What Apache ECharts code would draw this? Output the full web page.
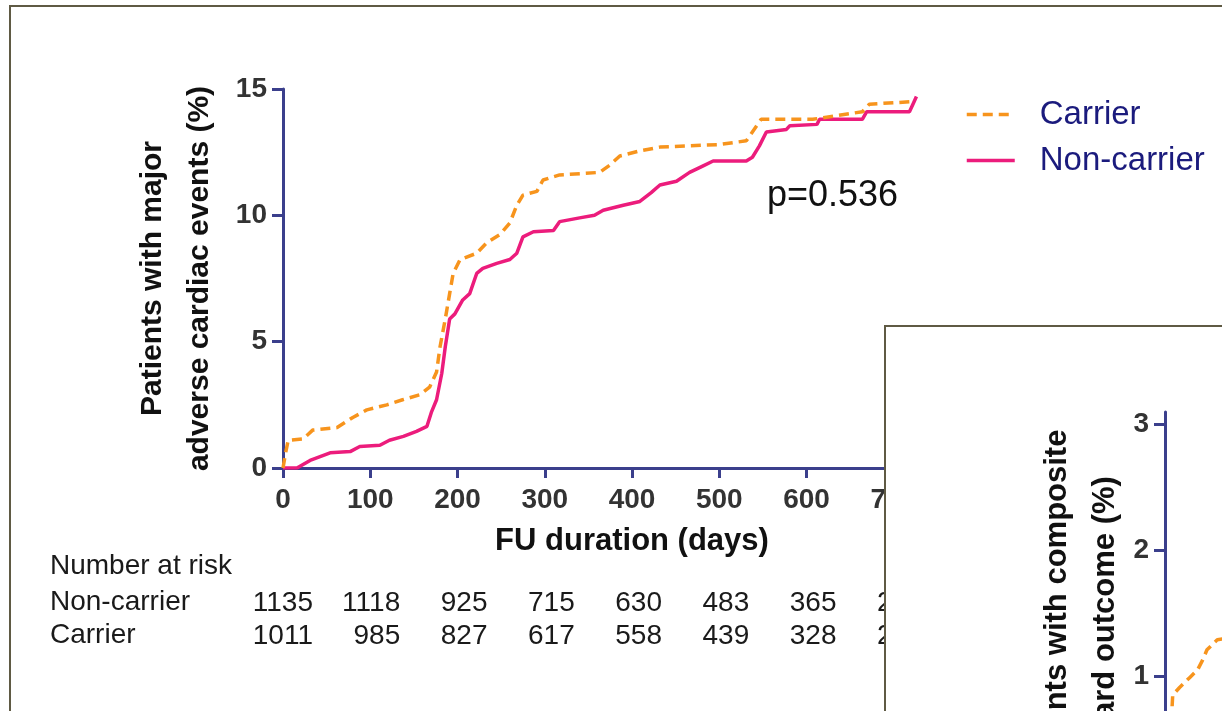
<!DOCTYPE html>
<html>
<head>
<meta charset="utf-8">
<script src="https://cdn.jsdelivr.net/npm/echarts@6/dist/echarts.min.js"></script>
<style>
  html, body { margin: 0; padding: 0; background: #fff; }
  #chart { width: 1222px; height: 711px; }
</style>
</head>
<body>
<div id="chart"></div>
<script>
// main panel: cumulative MACE (%) over follow-up days
const carrierDays = [0, 3, 6, 23, 34, 62, 80, 96, 119, 137, 157, 168, 176, 180, 186, 191, 195, 203, 222, 233, 249, 260, 268, 275, 291, 298, 317, 363, 375, 386, 409, 432, 500, 531, 538, 548, 607, 664, 672, 722]
const carrierPct = [0, 0.6, 1.1, 1.15, 1.5, 1.6, 2.0, 2.3, 2.5, 2.7, 2.9, 3.2, 3.8, 4.8, 5.9, 6.9, 7.7, 8.25, 8.5, 8.9, 9.25, 9.7, 10.4, 10.8, 10.95, 11.4, 11.6, 11.7, 12.0, 12.35, 12.55, 12.7, 12.8, 12.95, 13.3, 13.8, 13.8, 14.1, 14.4, 14.5]
const nonCarrierDays = [0, 16, 31, 54, 77, 88, 111, 122, 138, 153, 165, 170, 176, 182, 186, 191, 197, 206, 214, 222, 229, 245, 260, 268, 275, 287, 310, 317, 340, 357, 367, 390, 409, 422, 432, 451, 466, 481, 493, 531, 538, 546, 554, 577, 581, 612, 615, 664, 669, 718, 722, 726]
const nonCarrierPct = [0, 0, 0.3, 0.6, 0.65, 0.85, 0.9, 1.1, 1.25, 1.45, 1.65, 2.2, 2.7, 3.75, 4.8, 5.9, 6.1, 6.65, 6.9, 7.7, 7.9, 8.1, 8.25, 8.5, 9.15, 9.35, 9.4, 9.75, 9.9, 10.0, 10.2, 10.4, 10.55, 10.9, 11.2, 11.35, 11.7, 11.95, 12.15, 12.15, 12.3, 12.75, 13.3, 13.4, 13.55, 13.6, 13.8, 13.8, 14.1, 14.1, 14.4, 14.7]

// number at risk, one value per 100 days (last column hidden behind the inset)
const riskNonCarrier = [1135, 1118, 925, 715, 630, 483, 365, 262]
const riskCarrier = [1011, 985, 827, 617, 558, 439, 328, 241]

// inset panel (second figure, only partly visible)
const insetDays = [0, 4, 8, 9, 17, 29, 38, 44, 49, 61, 72]
const insetCarrierPct = [0, 0.4, 0.72, 0.85, 0.91, 0.99, 1.05, 1.13, 1.21, 1.29, 1.3]

const font = 'Liberation Sans, Arial, sans-serif'
const navy = '#3b3f8c'
const orange = '#f7941d'
const pink = '#ec1c7c'
const frame = '#5f5a44'

const zip = (xs, ys) => xs.map((x, i) => [x, ys[i]])

const chart = echarts.init(document.getElementById('chart'))

const riskAxis = (values, offset) => ({
  gridIndex: 0,
  type: 'value',
  min: 0,
  max: 800,
  interval: 100,
  position: 'bottom',
  offset: offset,
  axisLine: { show: false },
  axisTick: { show: false },
  splitLine: { show: false },
  axisLabel: {
    margin: 0,
    formatter: v => {
      const n = values[Math.round(v / 100)]
      return n === undefined ? '' : '{n|' + n + '}'
    },
    rich: {
      n: { width: 60, align: 'right', fontSize: 28, fontFamily: font, color: '#1a1a1a' }
    }
  }
})

const option = {
  backgroundColor: '#fff',
  animation: false,
  grid: [
    { left: 283, top: 89, width: 698, height: 379, outerBoundsMode: 'none' },
    { left: 1165, top: 412, width: 600, height: 390, outerBoundsMode: 'none' }
  ],
  xAxis: [
    {
      gridIndex: 0,
      type: 'value',
      min: 0,
      max: 800,
      interval: 100,
      name: 'FU duration (days)',
      nameLocation: 'middle',
      nameGap: 55,
      nameTextStyle: { fontSize: 31, fontWeight: 'bold', color: '#111', fontFamily: font, lineHeight: 36 },
      axisLine: { lineStyle: { color: navy, width: 3 } },
      axisTick: { length: 10, lineStyle: { color: navy, width: 3 } },
      axisLabel: { margin: 18, fontSize: 28, fontWeight: 'bold', color: '#333', fontFamily: font },
      splitLine: { show: false }
    },
    riskAxis(riskNonCarrier, 121),
    riskAxis(riskCarrier, 154),
    { gridIndex: 1, type: 'value', min: 0, max: 700, show: false }
  ],
  yAxis: [
    {
      gridIndex: 0,
      type: 'value',
      min: 0,
      max: 15,
      interval: 5,
      name: 'Patients with major\nadverse cardiac events (%)',
      nameLocation: 'middle',
      nameGap: 60,
      nameTextStyle: { fontSize: 30, fontWeight: 'bold', color: '#111', fontFamily: font, lineHeight: 47 },
      axisLine: { lineStyle: { color: navy, width: 3 } },
      axisTick: { length: 11, lineStyle: { color: navy, width: 3 } },
      axisLabel: { margin: 16, fontSize: 28, fontWeight: 'bold', color: '#333', fontFamily: font },
      splitLine: { show: false }
    },
    {
      gridIndex: 1,
      type: 'value',
      min: 0,
      max: 3.1,
      interval: 1,
      z: 60,
      name: 'Patients with composite\nhard outcome (%)',
      nameLocation: 'middle',
      nameGap: 35,
      nameTextStyle: { fontSize: 31, fontWeight: 'bold', color: '#111', fontFamily: font, lineHeight: 48 },
      axisLine: { lineStyle: { color: navy, width: 3 } },
      axisTick: { length: 11, lineStyle: { color: navy, width: 3 } },
      axisLabel: { margin: 16, fontSize: 28, fontWeight: 'bold', color: '#333', fontFamily: font },
      splitLine: { show: false }
    }
  ],
  legend: {
    orient: 'vertical',
    left: 960,
    top: 93,
    itemWidth: 48,
    itemHeight: 14,
    itemGap: 13,
    data: ['Carrier', 'Non-carrier'],
    itemStyle: { opacity: 0 },
    lineStyle: { width: 3.5 },
    textStyle: { fontSize: 33, color: '#1b1b7d', fontFamily: font, padding: [0, 0, 0, 20] }
  },
  series: [
    {
      name: 'Carrier',
      type: 'line',
      xAxisIndex: 0,
      yAxisIndex: 0,
      symbol: 'none',
      data: zip(carrierDays, carrierPct),
      lineStyle: { color: orange, width: 3.5, type: [10, 6] },
      itemStyle: { color: orange },
      z: 3
    },
    {
      name: 'Non-carrier',
      type: 'line',
      xAxisIndex: 0,
      yAxisIndex: 0,
      symbol: 'none',
      data: zip(nonCarrierDays, nonCarrierPct),
      lineStyle: { color: pink, width: 3.5 },
      itemStyle: { color: pink },
      z: 2
    },
    {
      name: 'Inset carrier',
      type: 'line',
      xAxisIndex: 3,
      yAxisIndex: 1,
      symbol: 'none',
      data: zip(insetDays, insetCarrierPct),
      lineStyle: { color: orange, width: 3.5, type: [10, 6] },
      z: 60
    }
  ],
  graphic: {
    elements: [
      {
        type: 'rect', z: 0, silent: true,
        shape: { x: 10, y: 6, width: 1240, height: 740 },
        style: { fill: null, stroke: frame, lineWidth: 2 }
      },
      {
        type: 'text', z: 5, left: 767, top: 178,
        style: { text: 'p=0.536', fontSize: 36, fontFamily: font, fill: '#111' }
      },
      {
        type: 'text', z: 5, left: 50, top: 552,
        style: { text: 'Number at risk', fontSize: 28, fontFamily: font, fill: '#1a1a1a' }
      },
      {
        type: 'text', z: 5, left: 50, top: 588,
        style: { text: 'Non-carrier', fontSize: 28, fontFamily: font, fill: '#1a1a1a' }
      },
      {
        type: 'text', z: 5, left: 50, top: 621,
        style: { text: 'Carrier', fontSize: 28, fontFamily: font, fill: '#1a1a1a' }
      },
      {
        type: 'rect', z: 50, silent: true,
        shape: { x: 885, y: 326, width: 400, height: 420 },
        style: { fill: '#fff', stroke: frame, lineWidth: 2 }
      }
    ]
  }
}

chart.setOption(option)
window.addEventListener('resize', () => {
  chart.resize()
})
</script>
</body>
</html>
